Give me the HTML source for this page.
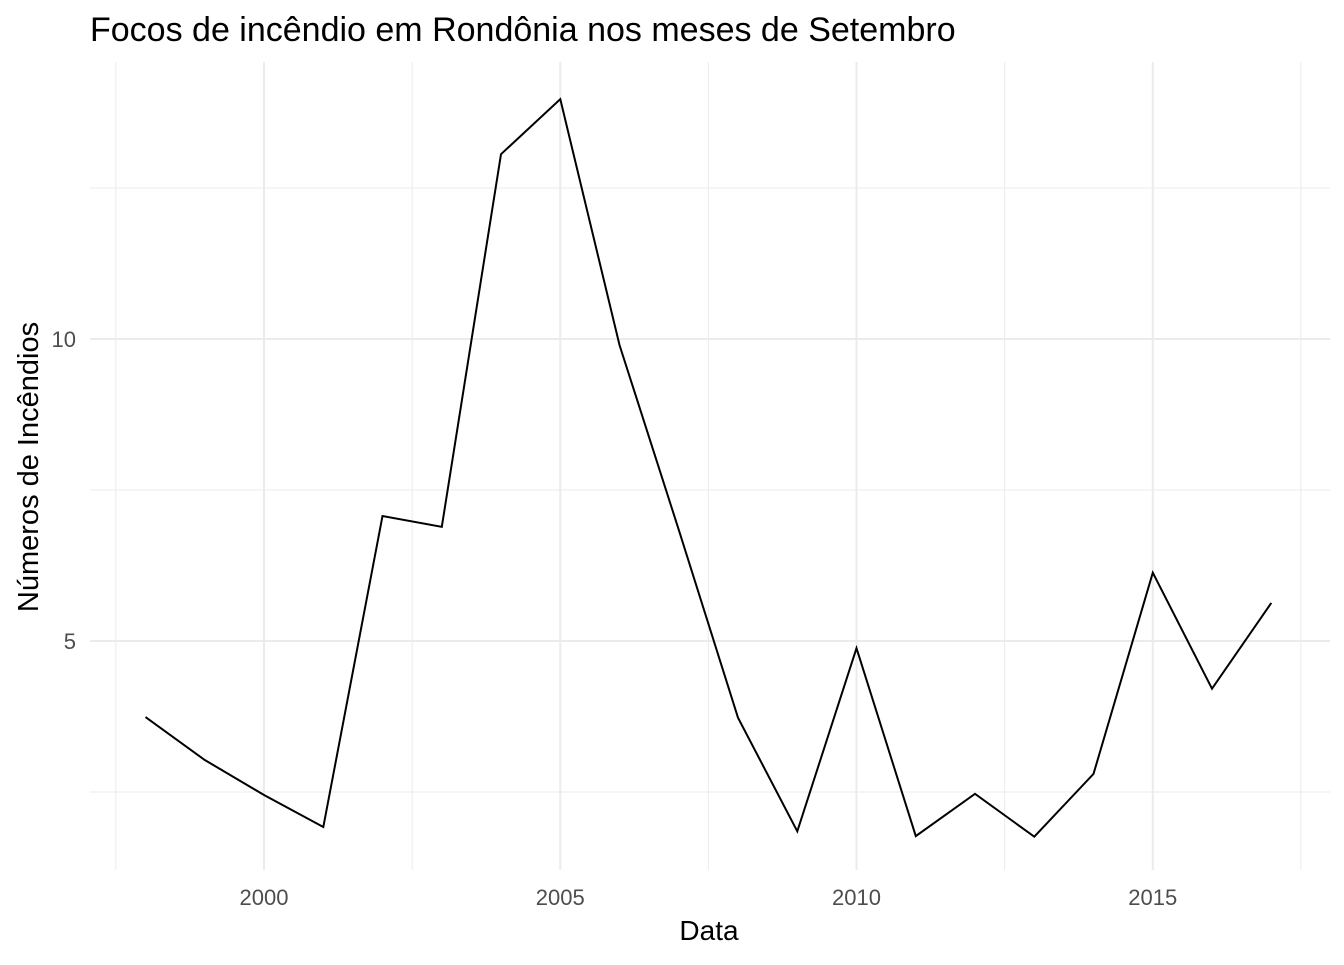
<!DOCTYPE html>
<html><head><meta charset="utf-8"><style>
html,body{margin:0;padding:0;background:#fff;}
svg text{font-family:"Liberation Sans",Arial,sans-serif;}
</style></head><body>
<svg id="chart" width="1344" height="960" xmlns="http://www.w3.org/2000/svg">
<text x="90" y="41" font-size="34" fill="#000">Focos de incêndio em Rondônia nos meses de Setembro</text>
<g id="grid"></g>
<g id="ticks"></g>
<path id="line" fill="none" stroke="#000" stroke-width="2"/>
<text x="709" y="940" font-size="28" text-anchor="middle" fill="#000">Data</text>
<text transform="translate(38,467) rotate(-90)" font-size="29" text-anchor="middle" fill="#000">Números de Incêndios</text>
</svg>
<script>
const years=[1998,1999,2000,2001,2002,2003,2004,2005,2006,2007,2008,2009,2010,2011,2012,2013,2014,2015,2016,2017];
const values=[3.74,3.03,2.45,1.92,7.07,6.89,13.06,13.97,9.90,6.84,3.73,1.85,4.88,1.77,2.47,1.76,2.80,6.13,4.21,5.63];
const xTicks=[2000,2005,2010,2015];
const xMinor=[1997.5,2002.5,2007.5,2012.5,2017.5];
const yTicks=[5,10];
const yMinor=[2.5,7.5,12.5];
const X=v=>264+(v-2000)*59.25;
const Y=v=>339-(v-10)*60.4;
const NS='http://www.w3.org/2000/svg';
const grid=document.getElementById('grid'),ticks=document.getElementById('ticks');
function ln(x1,y1,x2,y2,w,name){const l=document.createElementNS(NS,'line');
l.setAttribute('x1',x1);l.setAttribute('y1',y1);l.setAttribute('x2',x2);l.setAttribute('y2',y2);
l.setAttribute('stroke','#ebebeb');l.setAttribute('stroke-width',w);


grid.appendChild(l);}
function tx(x,y,s,anchor,name){const t=document.createElementNS(NS,'text');
t.setAttribute('x',x);t.setAttribute('y',y);t.setAttribute('font-size','22');t.setAttribute('fill','#4d4d4d');t.setAttribute('text-anchor',anchor);t.textContent=s;


ticks.appendChild(t);}
yMinor.forEach(v=>ln(90,Y(v),1330,Y(v),1,'y-minor-gridline'));
xMinor.forEach(v=>ln(X(v),62,X(v),870,1,'x-minor-gridline'));
yTicks.forEach(v=>{ln(90,Y(v),1330,Y(v),2,'y-major-gridline');tx(76,Y(v)+8,String(v),'end','y-tick-label');});
xTicks.forEach(v=>{ln(X(v),62,X(v),870,2,'x-major-gridline');tx(X(v),905,String(v),'middle','x-tick-label');});
document.getElementById('line').setAttribute('d',years.map((y,i)=>(i?'L':'M')+X(y).toFixed(1)+','+Y(values[i]).toFixed(1)).join(' '));
</script>
</body></html>
